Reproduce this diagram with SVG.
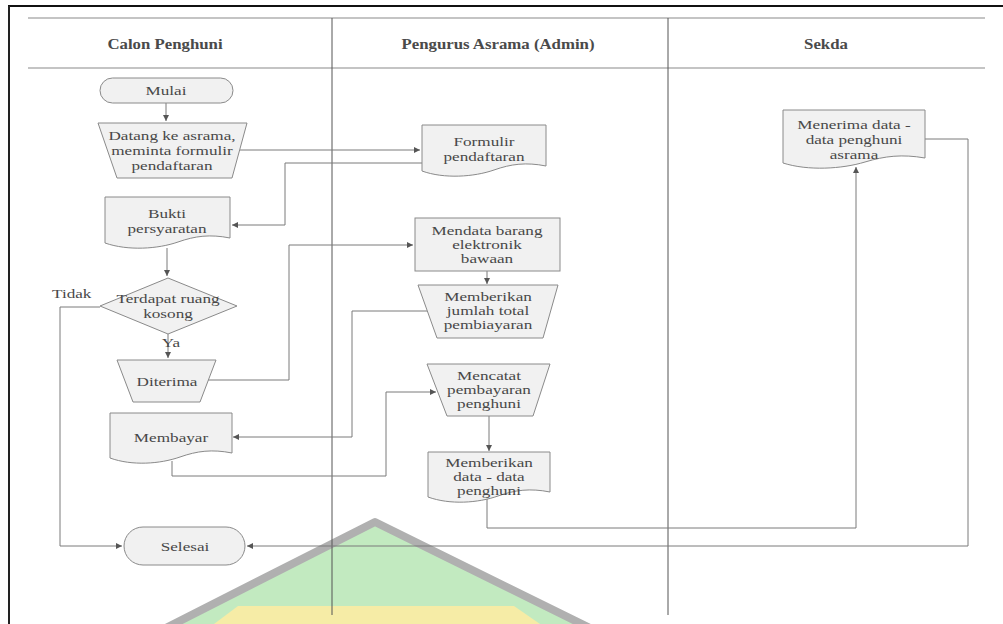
<svg xmlns="http://www.w3.org/2000/svg" width="1003" height="624" viewBox="0 0 1003 624">
<style>
.shape{fill:#f1f1f1;stroke:#8a8a8a;stroke-width:1}
.t{font-family:"Liberation Serif","Times New Roman",serif;font-size:13px;fill:#484848;text-anchor:middle}
.h{font-family:"Liberation Serif","Times New Roman",serif;font-size:14px;font-weight:bold;fill:#4a4a4a;text-anchor:middle}
.c{fill:none;stroke:#7a7a7a;stroke-width:1}
.lane{stroke:#555;stroke-width:1}
.hdr{stroke:#c4c4c4;stroke-width:2}
</style>
<defs>
<marker id="arr" markerWidth="6" markerHeight="6" refX="6" refY="3" orient="auto" markerUnits="userSpaceOnUse">
<path d="M0,0 L6,3 L0,6 z" fill="#555"/>
</marker>
</defs>
<rect width="1003" height="624" fill="#ffffff"/>
<g id="watermark">
<polygon points="375,522 158,632 598,632" fill="#c2eac0" stroke="#b0b0b0" stroke-width="8" stroke-linejoin="round"/>
<polygon points="238,606 514,606 540,624 214,624" fill="#f6eca6"/>
</g>
<g id="frame">
<line x1="8" y1="6" x2="1003" y2="6" stroke="#111" stroke-width="2"/>
<line x1="9" y1="6" x2="9" y2="624" stroke="#222" stroke-width="2"/>
<line class="hdr" x1="28" y1="18" x2="985" y2="18"/>
<line class="hdr" x1="28" y1="68" x2="985" y2="68"/>
<line class="lane" x1="332" y1="18" x2="332" y2="615"/>
<line class="lane" x1="668" y1="18" x2="668" y2="615"/>
<text class="h" transform="translate(165 49) scale(1.2 1)">Calon Penghuni</text>
<text class="h" transform="translate(498 49) scale(1.2 1)">Pengurus Asrama (Admin)</text>
<text class="h" transform="translate(826 49) scale(1.2 1)">Sekda</text>
</g>
<g id="connectors">
<path class="c" d="M166,103 V121" marker-end="url(#arr)"/>
<path class="c" d="M240,150 H420" marker-end="url(#arr)"/>
<path class="c" d="M422,163 H285 V225 H232" marker-end="url(#arr)"/>
<path class="c" d="M167,248 V276" marker-end="url(#arr)"/>
<path class="c" d="M168,334 V358" marker-end="url(#arr)"/>
<path class="c" d="M208,380 H289 V245 H413" marker-end="url(#arr)"/>
<path class="c" d="M487,271 V284" marker-end="url(#arr)"/>
<path class="c" d="M427,311 H352 V437 H233" marker-end="url(#arr)"/>
<path class="c" d="M172,461 V476 H386 V392 H436" marker-end="url(#arr)"/>
<path class="c" d="M489,416 V451" marker-end="url(#arr)"/>
<path class="c" d="M487,498 V528 H856 V167" marker-end="url(#arr)"/>
<path class="c" d="M925,139 H968 V546 H247" marker-end="url(#arr)"/>
<path class="c" d="M100,307 H60 V546 H122" marker-end="url(#arr)"/>
<text class="t" style="text-anchor:start" transform="translate(52 298) scale(1.32 1)">Tidak</text>
<text class="t" transform="translate(171 347) scale(1.32 1)">Ya</text>
</g>
<g id="mulai">
<rect class="shape" x="100" y="78" width="133" height="25" rx="12.5"/>
<text class="t" transform="translate(166 95) scale(1.32 1)">Mulai</text>
</g>
<g id="datang">
<polygon class="shape" points="98,123 247,123 232,178 117,178"/>
<text class="t" transform="translate(172 140) scale(1.32 1)"><tspan x="0" y="0">Datang ke asrama,</tspan><tspan x="0" y="15">meminta formulir</tspan><tspan x="0" y="30">pendaftaran</tspan></text>
</g>
<g id="bukti">
<path class="shape" d="M105,197 H230 V238 C210,234 195,236 178,242 C158,249 128,251 105,243 Z"/>
<text class="t" transform="translate(167 218) scale(1.32 1)"><tspan x="0" y="0">Bukti</tspan><tspan x="0" y="15">persyaratan</tspan></text>
</g>
<g id="terdapat">
<polygon class="shape" points="100,306 168,278 237,306 168,334"/>
<text class="t" transform="translate(168 303) scale(1.32 1)"><tspan x="0" y="0">Terdapat ruang</tspan><tspan x="0" y="15">kosong</tspan></text>
</g>
<g id="diterima">
<polygon class="shape" points="117,360 216,360 200,402 133,402"/>
<text class="t" transform="translate(167 386) scale(1.32 1)">Diterima</text>
</g>
<g id="membayar">
<path class="shape" d="M110,413 H232 V453 C212,449 197,451 180,457 C160,464 132,466 110,458 Z"/>
<text class="t" transform="translate(171 442) scale(1.32 1)">Membayar</text>
</g>
<g id="selesai">
<rect class="shape" x="124" y="527" width="121" height="38" rx="19"/>
<text class="t" transform="translate(185 551) scale(1.32 1)">Selesai</text>
</g>
<g id="formulir">
<path class="shape" d="M422,125 H546 V166 C526,162 511,164 494,170 C474,177 444,179 422,171 Z"/>
<text class="t" transform="translate(484 146) scale(1.32 1)"><tspan x="0" y="0">Formulir</tspan><tspan x="0" y="15">pendaftaran</tspan></text>
</g>
<g id="mendata">
<rect class="shape" x="415" y="218" width="145" height="53"/>
<text class="t" transform="translate(487 235) scale(1.32 1)"><tspan x="0" y="0">Mendata barang</tspan><tspan x="0" y="14">elektronik</tspan><tspan x="0" y="28">bawaan</tspan></text>
</g>
<g id="jumlah">
<polygon class="shape" points="418,285 558,285 543,338 437,338"/>
<text class="t" transform="translate(488 301) scale(1.32 1)"><tspan x="0" y="0">Memberikan</tspan><tspan x="0" y="14">jumlah total</tspan><tspan x="0" y="28">pembiayaran</tspan></text>
</g>
<g id="mencatat">
<polygon class="shape" points="427,364 550,364 533,416 447,416"/>
<text class="t" transform="translate(489 380) scale(1.32 1)"><tspan x="0" y="0">Mencatat</tspan><tspan x="0" y="14">pembayaran</tspan><tspan x="0" y="28">penghuni</tspan></text>
</g>
<g id="memberikan-data">
<path class="shape" d="M428,452 H550 V492 C530,488 515,490 498,496 C478,503 450,505 428,497 Z"/>
<text class="t" transform="translate(489 467) scale(1.32 1)"><tspan x="0" y="0">Memberikan</tspan><tspan x="0" y="14">data - data</tspan><tspan x="0" y="28">penghuni</tspan></text>
</g>
<g id="menerima">
<path class="shape" d="M783,110 H925 V158 C902,154 885,156 865,162 C842,169 808,171 783,163 Z"/>
<text class="t" transform="translate(854 129) scale(1.32 1)"><tspan x="0" y="0">Menerima data -</tspan><tspan x="0" y="15">data penghuni</tspan><tspan x="0" y="30">asrama</tspan></text>
</g>
</svg>
